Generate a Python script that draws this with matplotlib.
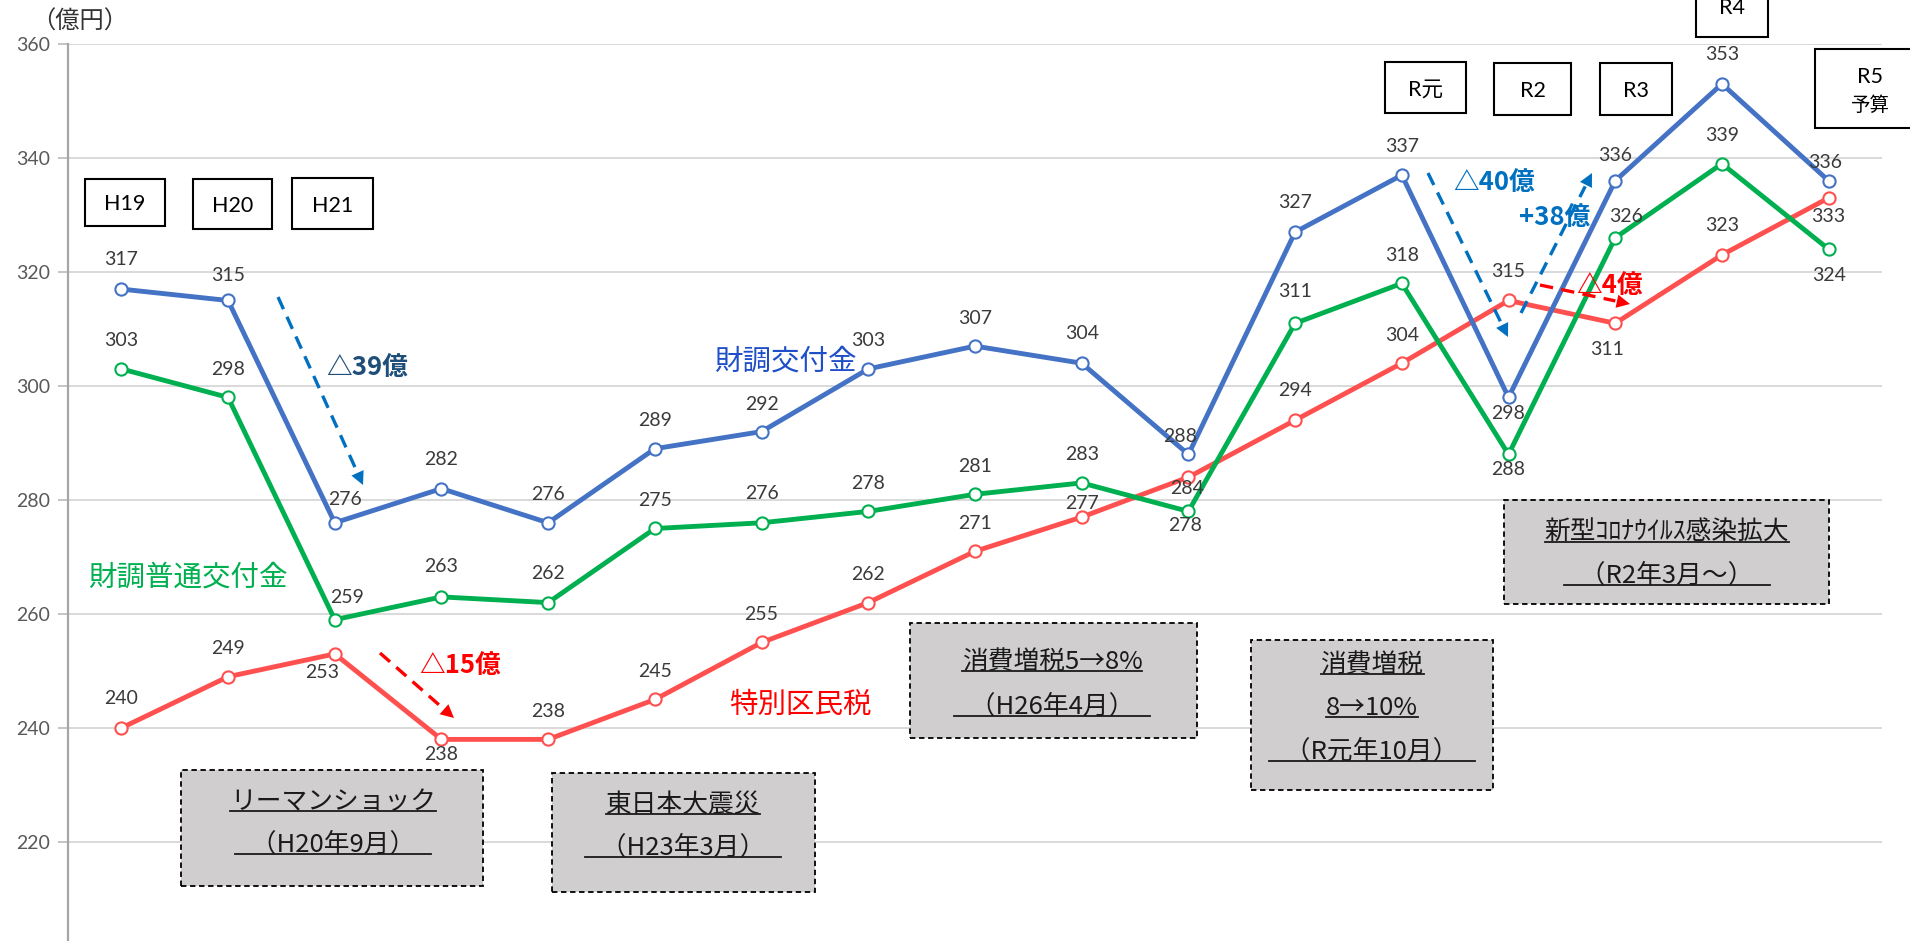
import math
import matplotlib
matplotlib.use("Agg")
import matplotlib.pyplot as plt
from matplotlib.patches import Rectangle, FancyArrowPatch
from matplotlib.lines import Line2D

plt.rcParams['font.family'] = ['Noto Sans CJK JP', 'DejaVu Sans']

# ----------------------- Data ---------------------------
years = ['H19', 'H20', 'H21', 'H22', 'H23', 'H24', 'H25', 'H26', 'H27',
         'H28', 'H29', 'H30', 'R元', 'R2', 'R3', 'R4', 'R5']
zaicho = [317, 315, 276, 282, 276, 289, 292, 303, 307, 304, 288, 327, 337, 298, 336, 353, 336]
futsu = [303, 298, 259, 263, 262, 275, 276, 278, 281, 283, 278, 311, 318, 288, 326, 339, 324]
kuminzei = [240, 249, 253, 238, 238, 245, 255, 262, 271, 277, 284, 294, 304, 315, 311, 323, 333]
yticks = [220, 240, 260, 280, 300, 320, 340, 360]

# label offsets (pixels) for the value labels
off_blue = [(0, 30), (0, 25), (10, 23), (0, 29), (0, 28), (0, 28), (0, 27), (0, 28), (0, 28),
            (0, 30), (-8, 18), (0, 30), (0, 29), (0, -16), (0, 25), (0, 29), (-4, 18)]
off_green = [(0, 28), (0, 28), (12, 22), (0, 30), (0, 29), (0, 28), (0, 29), (0, 28), (0, 28),
             (0, 28), (-3, -14), (0, 32), (0, 28), (0, -15), (11, 21), (0, 28), (0, -26)]
off_red = [(0, 29), (0, 28), (-13, -19), (0, -15), (0, 28), (0, 28), (0, 28), (0, 28), (0, 28),
           (0, 14), (-1, -11), (0, 30), (0, 28), (0, 29), (-8, -26), (0, 29), (0, -19)]

W, H = 1910, 941


def fp(x, y):
    # full-size pixel -> figure fraction
    return x / W, 1 - y / H


# ----------------------- Plotting ---------------------------
fig = plt.figure(figsize=(W / 100, H / 100), dpi=100)
ax = fig.add_axes([68 / W, 0, 1814 / W, 897 / H])

x = list(range(len(years)))
series = [
    (kuminzei, '#FF5050', off_red),
    (futsu, '#00B050', off_green),
    (zaicho, '#4472C4', off_blue),
]
for vals, col, offs in series:
    ax.plot(x, vals, color=col, lw=3.5, marker='o', ms=8.8,
            mfc='white', mec=col, mew=1.5, zorder=3)
    for i, v in enumerate(vals):
        ax.annotate(str(v), (i, v), xytext=offs[i], textcoords='offset pixels',
                    ha='center', va='center', fontsize=14, color='#3A3A3A',
                    family=['Lato', 'DejaVu Sans'], zorder=5)

ax.set_xlim(-0.5, len(years) - 0.5)
ax.set_ylim(360 - 897 / 5.7, 360)
ax.set_xticks([])
ax.set_yticks(yticks)
for lbl in ax.get_yticklabels():
    lbl.set_family(['Lato', 'DejaVu Sans'])
ax.tick_params(axis='y', length=7, width=1.3, color='#BFBFBF',
               labelsize=14, labelcolor='#595959', pad=6)
ax.grid(axis='y', color='#D9D9D9', lw=1.4)
ax.set_axisbelow(True)
for s in ['top', 'right', 'bottom']:
    ax.spines[s].set_visible(False)
ax.spines['left'].set_color('#A6A6A6')
ax.spines['left'].set_linewidth(1.6)

fig.text(*fp(80, 22), '（億円）', ha='center', va='center', fontsize=17.5, color='#333333')

# ----------------------- Year boxes ---------------------------
year_boxes = [
    ('H19', 85, 179, 165, 226),
    ('H20', 193, 179, 272, 229),
    ('H21', 292, 178, 373, 229),
    ('R元', 1385, 62, 1466, 113),
    ('R2', 1494, 63, 1571, 115),
    ('R3', 1600, 63, 1672, 115),
    ('R4', 1696, -5, 1768, 37),
]
for lab, x0, y0, x1, y1 in year_boxes:
    fig.add_artist(Rectangle(fp(x0, y1), (x1 - x0) / W, (y1 - y0) / H,
                             transform=fig.transFigure, fc='white', ec='black', lw=1.5))
    fig.text(*fp((x0 + x1) / 2, (y0 + y1) / 2 + (2 if y0 > 0 else -8)), lab,
             ha='center', va='center', fontsize=15.5, family=['Lato', 'Noto Sans CJK JP'])
fig.add_artist(Rectangle(fp(1815, 128), 100 / W, 79 / H, transform=fig.transFigure,
                         fc='white', ec='black', lw=1.5))
fig.text(*fp(1870, 77), 'R5', ha='center', va='center', fontsize=15.5,
         family=['Lato', 'Noto Sans CJK JP'])
fig.text(*fp(1870, 105), '予算', ha='center', va='center', fontsize=14)

# ----------------------- Series names ---------------------------
fig.text(*fp(785, 362), '財調交付金', ha='center', va='center', fontsize=20.5, color='#1F4FC8')
fig.text(*fp(188, 578), '財調普通交付金', ha='center', va='center', fontsize=20.5, color='#00B050')
fig.text(*fp(800, 705), '特別区民税', ha='center', va='center', fontsize=20.5, color='#FF0000')


# ----------------------- Change arrows ---------------------------
def dashed_arrow(p0, p1, color):
    dx, dy = p1[0] - p0[0], p1[1] - p0[1]
    L = math.hypot(dx, dy)
    hx, hy = p1[0] - dx / L * 15, p1[1] - dy / L * 15
    a, b = fp(*p0), fp(hx, hy)
    fig.add_artist(Line2D([a[0], b[0]], [a[1], b[1]], transform=fig.transFigure,
                          color=color, lw=2.4, ls=(0, (4, 2.5))))
    fig.add_artist(FancyArrowPatch(b, fp(*p1), transform=fig.transFigure,
                                   arrowstyle='-|>', mutation_scale=24, color=color,
                                   lw=0, shrinkA=0, shrinkB=0))


dashed_arrow((278, 297), (363, 485), '#0070C0')
dashed_arrow((380, 653), (454, 718), '#FF0000')
dashed_arrow((1428, 173), (1508, 337), '#0070C0')
dashed_arrow((1521, 313), (1592, 173), '#0070C0')
dashed_arrow((1540, 285), (1630, 304), '#FF0000')

for txt, px, py, col in [('△39億', 367, 367, '#1F4E79'), ('△15億', 460, 665, '#FF0000'),
                         ('△40億', 1494, 182, '#0070C0'), ('+38億', 1555, 217, '#0070C0'),
                         ('△4億', 1610, 285, '#FF0000')]:
    fig.text(*fp(px, py), txt, ha='center', va='center', fontsize=18.5,
             fontweight='bold', color=col)

# ----------------------- Event boxes ---------------------------
events = [
    ((181, 770, 483, 886), 333, [('リーマンショック', 802), ('\u3000（H20年9月）\u3000', 845)]),
    ((552, 773, 815, 892), 683, [('東日本大震災', 805), ('\u3000（H23年3月）\u3000', 848)]),
    ((910, 623, 1197, 738), 1052, [('消費増税5→8%', 662), ('\u3000（H26年4月）\u3000', 707)]),
    ((1251, 640, 1493, 790), 1372, [('消費増税', 665), ('8→10%', 708), ('\u3000（R元年10月）\u3000', 752)]),
    ((1504, 500, 1829, 604), 1667, [('新型ｺﾛﾅｳｲﾙｽ感染拡大', 533), ('\u3000（R2年3月～）\u3000', 576)]),
]
underlined = []
for (x0, y0, x1, y1), cx, lines in events:
    fig.add_artist(Rectangle(fp(x0, y1), (x1 - x0) / W, (y1 - y0) / H,
                             transform=fig.transFigure, fc='#D0CECE', ec='black',
                             lw=1.3, ls=(0, (3, 2))))
    for txt, py in lines:
        t = fig.text(*fp(cx, py), txt, ha='center', va='center', fontsize=18.5, color='#1A1A1A')
        underlined.append(t)

fig.canvas.draw()
renderer = fig.canvas.get_renderer()
for t in underlined:
    bb = t.get_window_extent(renderer)
    s = t.get_text()
    pad = 10 if s.startswith('\u3000') else 0
    uy = bb.y0 + 4
    fig.add_artist(Line2D([(bb.x0 + pad) / W, (bb.x1 - pad) / W], [uy / H, uy / H],
                          transform=fig.transFigure, color='#1A1A1A', lw=1.3))

fig.savefig('out.png', dpi=100)
